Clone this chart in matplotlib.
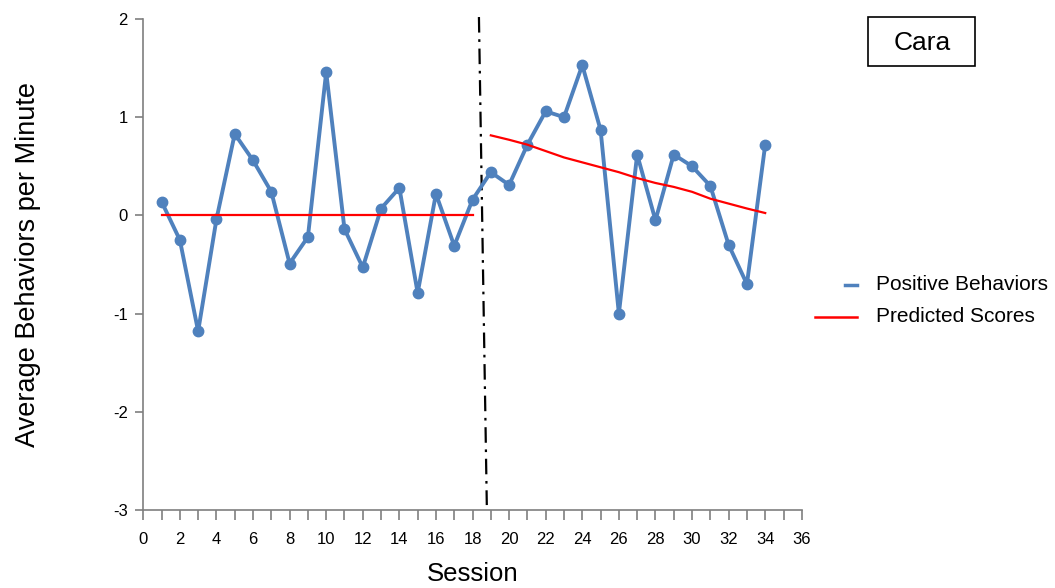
import matplotlib.pyplot as plt
from matplotlib.lines import Line2D
from matplotlib.patches import Rectangle

plt.rcParams['font.family'] = ['Liberation Sans', 'DejaVu Sans']
plt.rcParams['axes.unicode_minus'] = False

sessions = list(range(1, 35))
positive = [0.14, -0.25, -1.18, -0.04, 0.83, 0.56, 0.24, -0.49, -0.22, 1.46,
            -0.14, -0.53, 0.07, 0.28, -0.79, 0.22, -0.31, 0.16, 0.44, 0.31,
            0.72, 1.06, 1.00, 1.53, 0.87, -1.00, 0.62, -0.05, 0.62, 0.50,
            0.30, -0.30, -0.70, 0.72]

base_sessions = list(range(1, 19))
base_pred = [0.0] * 18
treat_sessions = list(range(19, 35))
treat_pred = [0.815, 0.77, 0.72, 0.655, 0.59, 0.54, 0.49, 0.44,
              0.38, 0.33, 0.29, 0.24, 0.17, 0.12, 0.07, 0.024]

phase_x = [18.35, 18.78]
phase_y = [2.02, -2.95]

xticks = list(range(0, 37, 2))
yticks = [-3, -2, -1, 0, 1, 2]

blue = '#4f81bd'

fig = plt.figure(figsize=(10.55, 5.88), dpi=100)
ax = fig.add_axes([0.1358, 0.1327, 0.6242, 0.835])

ax.plot(sessions, positive, color=blue, lw=2.8, marker='o', ms=7.5, zorder=3)
ax.plot(base_sessions, base_pred, color='red', lw=1.6, zorder=4)
ax.plot(treat_sessions, treat_pred, color='red', lw=1.6, zorder=4)
ax.plot(phase_x, phase_y, color='black', lw=1.6, ls=(0, (7, 3, 1.2, 3)), clip_on=False)

ax.set_xlim(0, 36)
ax.set_ylim(-3, 2)
ax.set_xticks(xticks)
ax.set_xticks(range(0, 37), minor=True)
ax.set_yticks(yticks)
for s in ['top', 'right']:
    ax.spines[s].set_visible(False)
for s in ['left', 'bottom']:
    ax.spines[s].set_color('#7f7f7f')
    ax.spines[s].set_linewidth(1.2)
ax.tick_params(which='both', direction='out', color='#7f7f7f', width=1.2)
ax.tick_params(axis='x', which='major', length=7, labelsize=12, pad=9)
ax.tick_params(axis='x', which='minor', length=7)
ax.tick_params(axis='y', length=6, labelsize=12, pad=5)

ax.set_xlabel('Session', fontsize=18.5, labelpad=11)
ax.set_ylabel('Average Behaviors per Minute', fontsize=19.5, labelpad=52)

# phase label box
fig.add_artist(Rectangle((868 / 1055, 1 - 66 / 588), 107 / 1055, 49 / 588,
                         transform=fig.transFigure, fill=False, ec='black', lw=1.2))
fig.text(922 / 1055, 1 - 43 / 588, 'Cara', fontsize=19, ha='center', va='center')

# legend drawn on the right
fig.add_artist(Line2D([845 / 1055, 857 / 1055], [1 - 285 / 588] * 2, color=blue, lw=2.5,
                      transform=fig.transFigure))
fig.add_artist(Line2D([815 / 1055, 857 / 1055], [1 - 317 / 588] * 2, color='red', lw=1.8,
                      transform=fig.transFigure))
fig.text(876 / 1055, 1 - 285 / 588, 'Positive Behaviors', fontsize=15, va='center')
fig.text(876 / 1055, 1 - 317 / 588, 'Predicted Scores', fontsize=15, va='center')

fig.savefig('out.png', dpi=100)
